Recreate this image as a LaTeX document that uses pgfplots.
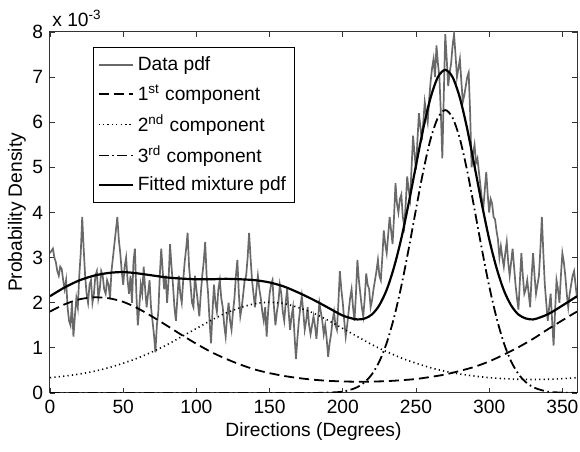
\documentclass[border=0pt]{standalone}
\usepackage{fontspec}
\setmainfont{Liberation Sans}
\usepackage{pgfplots}
\pgfplotsset{compat=1.18}
\definecolor{datagray}{RGB}{105,105,105}
\newcommand{\lblfont}{\fontsize{9.6}{11}\selectfont}

\begin{document}
\begin{tikzpicture}
\begin{axis}[name=ax,
  width=263.5pt, height=180.5pt, scale only axis,
  xmin=0, xmax=360, ymin=0, ymax=8,
  xtick={0,50,...,350}, ytick={0,1,...,8},
  tick align=inside, major tick length=2.5pt,
  tick style={black!80, line width=0.4pt},
  axis line style={black!80, line width=0.5pt},
  tick label style={font=\lblfont},
  /pgf/number format/assume math mode=true,
  legend style={at={(0.0816,0.958)}, anchor=north west, draw=black,
    fill=white, font=\lblfont, row sep=1.5pt, inner xsep=2pt, inner ysep=2.5pt},
  legend cell align=left]

% data pdf (x 1e-3), one value per degree
\addplot[datagray, line width=0.85pt] coordinates {
(0,3.1) (1,3.15) (2,3.2) (3,3.0) (4,2.9) (5,2.7) (6,2.6) (7,2.8) (8,2.75) (9,2.5)
(10,2.3) (11,2.5) (12,1.9) (13,1.6) (14,1.5) (15,2.0) (16,1.25) (17,1.7) (18,2.1) (19,1.9)
(20,2.6) (21,3.1) (22,3.9) (23,3.2) (24,2.6) (25,2.2) (26,2.0) (27,2.4) (28,2.5) (29,2.0)
(30,2.2) (31,2.6) (32,2.7) (33,2.1) (34,2.3) (35,2.7) (36,2.6) (37,2.3) (38,2.2) (39,2.5)
(40,2.4) (41,2.1) (42,2.7) (43,3.0) (44,3.3) (45,3.6) (46,3.9) (47,3.4) (48,3.1) (49,2.7)
(50,2.4) (51,2.8) (52,3.0) (53,2.5) (54,2.2) (55,2.6) (56,2.0) (57,2.9) (58,3.2) (59,2.2)
(60,1.5) (61,1.9) (62,2.4) (63,2.2) (64,2.8) (65,2.3) (66,1.9) (67,2.2) (68,2.5) (69,1.9)
(70,1.6) (71,1.3) (72,0.9) (73,1.5) (74,1.8) (75,2.6) (76,3.2) (77,2.7) (78,2.3) (79,2.6)
(80,2.0) (81,2.5) (82,3.3) (83,2.8) (84,2.4) (85,1.9) (86,1.6) (87,2.1) (88,2.6) (89,2.2)
(90,2.0) (91,2.5) (92,2.9) (93,3.2) (94,3.55) (95,2.8) (96,2.4) (97,2.0) (98,1.9) (99,2.6)
(100,2.3) (101,2.0) (102,1.7) (103,2.2) (104,2.6) (105,2.9) (106,3.35) (107,2.6) (108,2.2) (109,1.6)
(110,1.1) (111,1.8) (112,2.4) (113,2.0) (114,1.8) (115,2.3) (116,2.5) (117,2.1) (118,1.9) (119,1.5)
(120,1.25) (121,1.7) (122,2.0) (123,1.6) (124,1.4) (125,1.8) (126,2.1) (127,2.6) (128,2.95) (129,2.2)
(130,1.7) (131,1.9) (132,2.2) (133,2.5) (134,2.6) (135,3.0) (136,3.55) (137,3.0) (138,2.5) (139,2.2)
(140,1.9) (141,2.3) (142,2.6) (143,2.3) (144,2.1) (145,1.8) (146,1.6) (147,1.9) (148,1.25) (149,1.8)
(150,2.2) (151,2.4) (152,2.5) (153,1.9) (154,1.5) (155,1.8) (156,2.0) (157,2.4) (158,2.2) (159,1.8)
(160,1.6) (161,2.0) (162,2.3) (163,1.8) (164,1.4) (165,1.7) (166,1.9) (167,1.3) (168,0.75) (169,1.2)
(170,1.6) (171,1.9) (172,2.15) (173,1.8) (174,1.4) (175,1.6) (176,1.9) (177,1.5) (178,1.3) (179,1.5)
(180,1.7) (181,1.5) (182,1.2) (183,1.6) (184,2.0) (185,1.8) (186,1.6) (187,1.3) (188,1.5) (189,1.2)
(190,0.8) (191,1.1) (192,1.3) (193,1.6) (194,1.8) (195,1.5) (196,1.4) (197,2.0) (198,2.7) (199,2.3)
(200,2.0) (201,1.6) (202,1.25) (203,1.5) (204,1.8) (205,2.1) (206,2.3) (207,1.9) (208,1.6) (209,2.2)
(210,2.95) (211,2.5) (212,2.2) (213,1.9) (214,1.7) (215,2.1) (216,2.65) (217,2.4) (218,2.3) (219,1.9)
(220,2.05) (221,2.3) (222,2.5) (223,2.7) (224,2.95) (225,2.6) (226,2.5) (227,3.0) (228,3.6) (229,3.3)
(230,3.1) (231,3.5) (232,3.9) (233,3.6) (234,3.3) (235,3.9) (236,4.65) (237,4.2) (238,4.0) (239,4.3)
(240,4.4) (241,3.9) (242,3.7) (243,4.2) (244,4.8) (245,4.5) (246,4.3) (247,5.0) (248,5.7) (249,5.3)
(250,4.95) (251,5.6) (252,6.2) (253,5.9) (254,5.6) (255,6.0) (256,6.45) (257,6.2) (258,6.0) (259,6.5)
(260,6.9) (261,7.2) (262,7.4) (263,7.0) (264,7.7) (265,7.3) (266,7.0) (267,6.2) (268,5.2) (269,6.6)
(270,7.95) (271,7.4) (272,6.8) (273,7.1) (274,7.3) (275,7.7) (276,7.95) (277,7.5) (278,7.0) (279,7.2)
(280,7.4) (281,6.9) (282,6.45) (283,6.6) (284,6.8) (285,7.0) (286,7.1) (287,6.2) (288,5.0) (289,5.3)
(290,5.5) (291,5.1) (292,5.2) (293,4.9) (294,4.6) (295,4.3) (296,4.1) (297,4.5) (298,4.9) (299,4.4)
(300,4.0) (301,4.3) (302,4.2) (303,3.9) (304,3.85) (305,3.6) (306,3.4) (307,3.0) (308,3.25) (309,3.0)
(310,2.8) (311,3.1) (312,3.35) (313,2.9) (314,2.6) (315,2.9) (316,3.2) (317,2.8) (318,2.4) (319,2.1)
(320,1.85) (321,2.5) (322,3.1) (323,2.6) (324,2.2) (325,2.3) (326,2.5) (327,2.2) (328,1.9) (329,2.6)
(330,3.1) (331,2.6) (332,2.2) (333,2.4) (334,2.6) (335,3.2) (336,3.9) (337,3.1) (338,2.4) (339,2.0)
(340,1.6) (341,1.9) (342,2.2) (343,1.6) (344,1.05) (345,1.8) (346,2.5) (347,2.3) (348,2.0) (349,2.6)
(350,3.1) (351,2.9) (352,2.6) (353,2.2) (354,1.9) (355,2.2) (356,2.4) (357,2.6) (358,2.7) (359,2.4)
(360,2.1)};
\addlegendentry{Data pdf}

% 1st component
\addplot[black, line width=0.9pt, dash pattern=on 5pt off 2.5pt, smooth] coordinates {
(0,1.805) (10,1.965) (20,2.075) (30,2.12) (40,2.10) (50,2.02) (60,1.875) (70,1.69) (80,1.49) (90,1.285)
(100,1.09) (110,0.91) (120,0.76) (130,0.63) (140,0.52) (150,0.44) (160,0.377) (170,0.33) (180,0.294) (190,0.27)
(200,0.256) (210,0.25) (220,0.253) (230,0.263) (240,0.283) (250,0.31) (260,0.356) (270,0.41) (280,0.49) (290,0.58)
(300,0.70) (310,0.85) (320,1.015) (330,1.20) (340,1.41) (350,1.61) (360,1.805)};
\addlegendentry{1\textsuperscript{st} component}

% 2nd component
\addplot[black, line width=0.8pt, dash pattern=on 0.6pt off 1.6pt, smooth] coordinates {
(0,0.34) (10,0.375) (20,0.42) (30,0.48) (40,0.56) (50,0.66) (60,0.775) (70,0.915) (80,1.07) (90,1.25)
(100,1.43) (110,1.61) (120,1.77) (130,1.89) (140,1.98) (150,2.01) (160,1.98) (170,1.89) (180,1.77) (190,1.61)
(200,1.43) (210,1.25) (220,1.07) (230,0.915) (240,0.775) (250,0.66) (260,0.56) (270,0.48) (280,0.42) (290,0.375)
(300,0.34) (310,0.318) (320,0.304) (330,0.30) (340,0.304) (350,0.318) (360,0.34)};
\addlegendentry{2\textsuperscript{nd} component}

% 3rd component
\addplot[black, line width=0.9pt, dash pattern=on 5pt off 1.8pt on 0.8pt off 1.8pt, smooth] coordinates {
(0,0) (20,0) (40,0) (60,0) (80,0) (100,0) (120,0) (140,0) (160,0) (180,0)
(190,0.01) (195,0.015) (200,0.03) (205,0.07) (210,0.13) (215,0.24) (220,0.42) (225,0.70) (230,1.11) (235,1.67)
(240,2.37) (245,3.19) (250,4.07) (255,4.92) (260,5.63) (265,6.10) (270,6.27) (275,6.10) (280,5.63) (285,4.92)
(290,4.07) (295,3.19) (300,2.37) (305,1.67) (310,1.11) (315,0.70) (320,0.42) (325,0.24) (330,0.13) (335,0.07)
(340,0.03) (345,0.015) (350,0.01) (360,0)};
\addlegendentry{3\textsuperscript{rd} component}

% fitted mixture
\addplot[black, line width=1.1pt, smooth] coordinates {
(0,2.145) (10,2.34) (20,2.495) (30,2.60) (40,2.66) (50,2.68) (60,2.65) (70,2.605) (80,2.56) (90,2.535)
(100,2.52) (110,2.52) (120,2.53) (130,2.52) (140,2.50) (150,2.45) (160,2.357) (170,2.22) (180,2.064) (190,1.89)
(195,1.80) (200,1.716) (205,1.663) (210,1.63) (215,1.651) (220,1.743) (225,1.948) (230,2.288) (235,2.788) (240,3.428)
(245,4.203) (250,5.04) (255,5.863) (260,6.546) (265,7.003) (270,7.16) (275,7.0) (280,6.54) (285,5.852) (290,5.025)
(295,4.187) (300,3.41) (305,2.774) (310,2.278) (315,1.941) (320,1.739) (325,1.652) (330,1.63) (335,1.677) (340,1.744)
(345,1.835) (350,1.938) (355,2.04) (360,2.145)};
\addlegendentry{Fitted mixture pdf}
\end{axis}

\node[font=\lblfont] at ([yshift=-19.5pt]ax.south) {Directions (Degrees)};
\node[font=\lblfont, rotate=90] at ([xshift=-16.5pt]ax.west) {Probability Density};
\node[font=\lblfont, anchor=base west, inner sep=0pt] at ([xshift=1pt,yshift=2.5pt]ax.north west) {x 10\textsuperscript{-3}};

\pgfresetboundingbox
\path ([xshift=-25pt,yshift=-29.5pt]ax.south west) rectangle ([xshift=1.5pt,yshift=16pt]ax.north east);
\end{tikzpicture}
\end{document}
